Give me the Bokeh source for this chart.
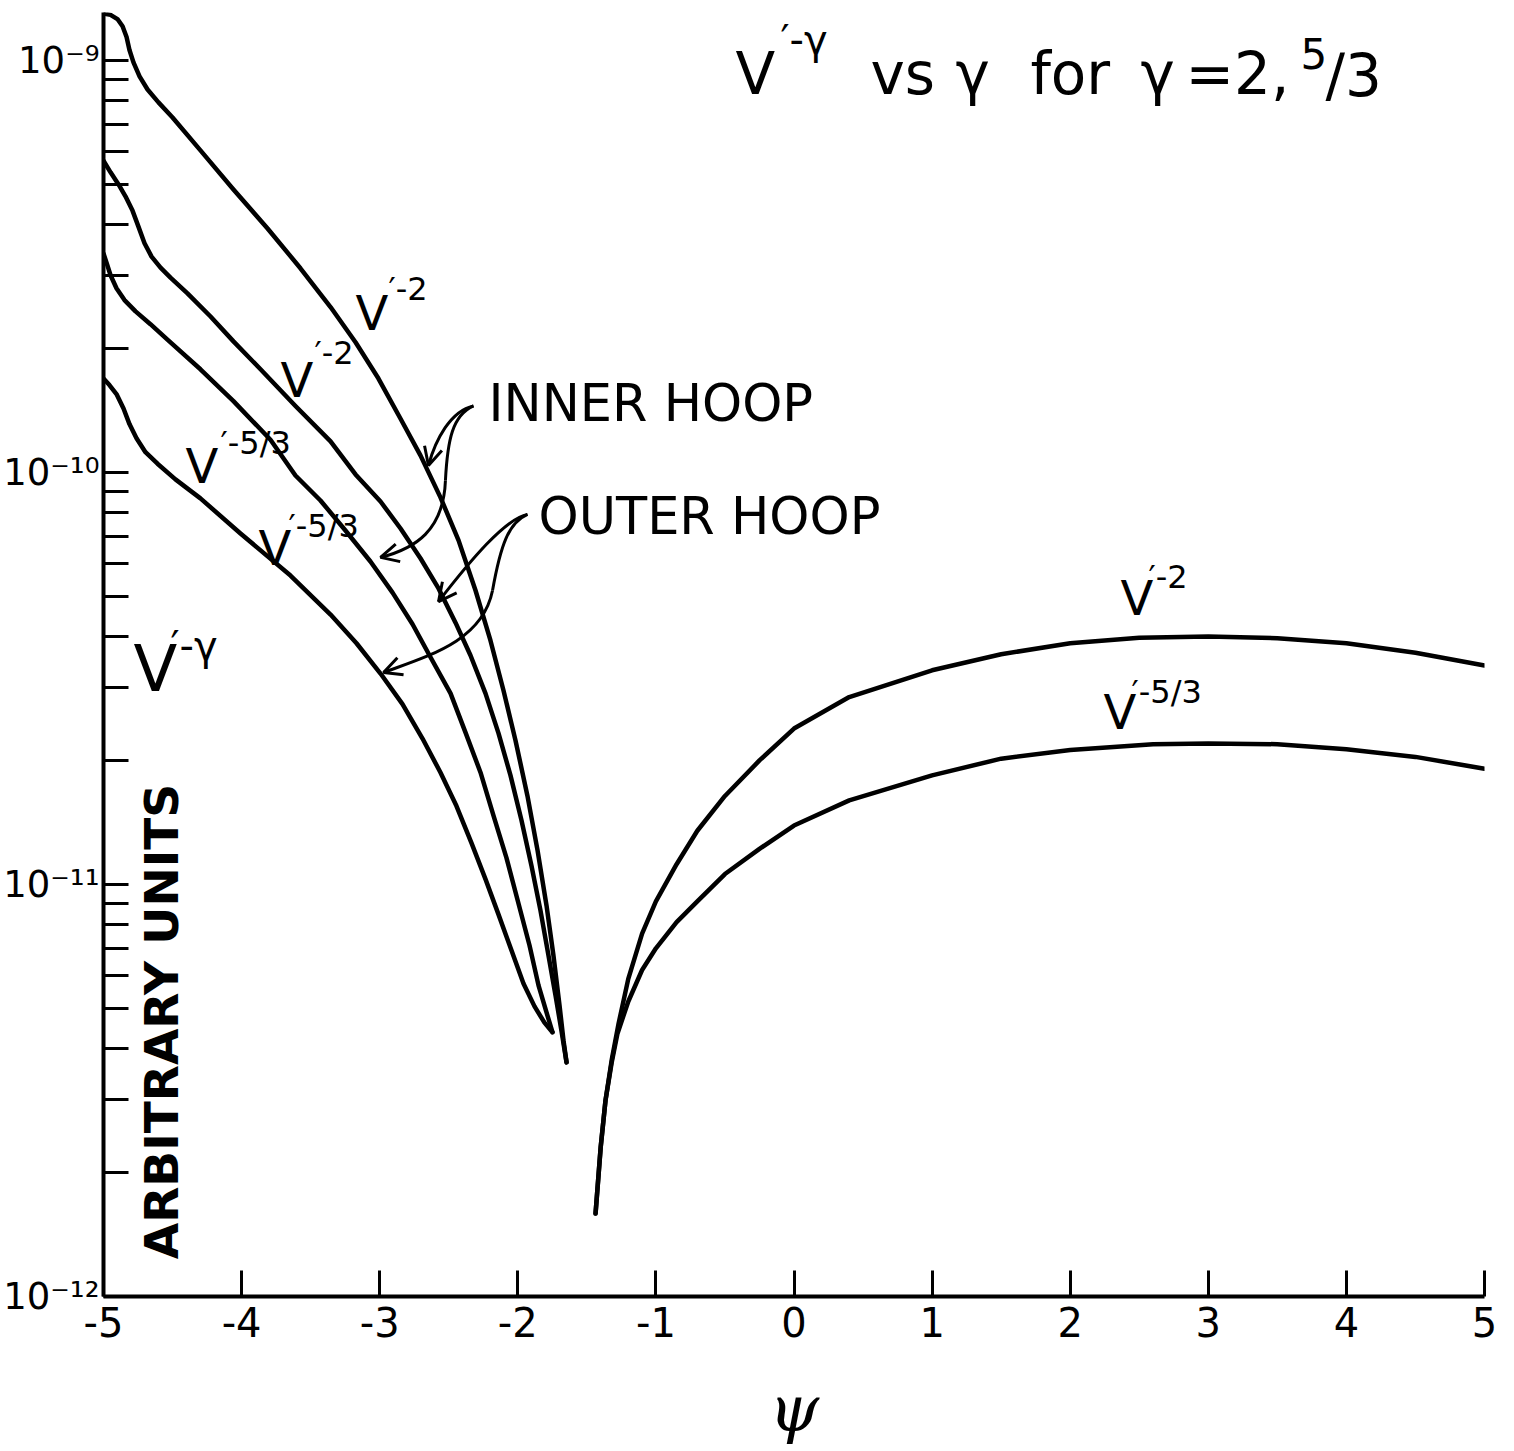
import numpy as np
from bokeh.plotting import figure
from bokeh.models import FixedTicker, Label, Arrow, OpenHead, Range1d
from bokeh.embed import file_html
from bokeh.resources import INLINE

# --- V'^-gamma against psi (arbitrary units) -------------------------------
# inner hoop, gamma = 2
psi_inner_2 = [-5.000, -4.949, -4.899, -4.862, -4.833, -4.812, -4.783, -4.739,
               -4.681, -4.602, -4.500, -4.298, -4.059, -3.812, -3.574, -3.356,
               -3.175, -3.009, -2.849, -2.705, -2.560, -2.429, -2.306, -2.198,
               -2.104, -2.017, -1.930, -1.857, -1.792, -1.742, -1.698, -1.669, -1.647]
val_inner_2 = [1.30e-9, 1.29e-9, 1.26e-9, 1.21e-9, 1.14e-9, 1.06e-9, 9.89e-10, 9.15e-10,
               8.50e-10, 7.91e-10, 7.27e-10, 6.05e-10, 4.86e-10, 3.91e-10, 3.13e-10,
               2.52e-10, 2.07e-10, 1.69e-10, 1.35e-10, 1.10e-10, 8.70e-11, 6.84e-11,
               5.17e-11, 3.91e-11, 2.96e-11, 2.24e-11, 1.64e-11, 1.21e-11, 8.89e-12,
               6.73e-12, 5.09e-12, 4.18e-12, 3.70e-12]

# outer hoop, gamma = 2
psi_outer_2 = [-5.000, -4.949, -4.891, -4.841, -4.790, -4.747, -4.703, -4.652,
               -4.587, -4.515, -4.392, -4.225, -4.059, -3.863, -3.610, -3.356,
               -3.175, -2.994, -2.849, -2.705, -2.574, -2.451, -2.343, -2.234,
               -2.140, -2.053, -1.973, -1.901, -1.836, -1.778, -1.727, -1.684, -1.647]
val_outer_2 = [5.71e-10, 5.35e-10, 5.00e-10, 4.68e-10, 4.32e-10, 3.95e-10, 3.60e-10,
               3.34e-10, 3.14e-10, 2.97e-10, 2.72e-10, 2.39e-10, 2.08e-10, 1.78e-10,
               1.45e-10, 1.19e-10, 9.89e-11, 8.50e-11, 7.31e-11, 6.19e-11, 5.23e-11,
               4.32e-11, 3.60e-11, 2.91e-11, 2.33e-11, 1.84e-11, 1.43e-11, 1.11e-11,
               8.65e-12, 6.73e-12, 5.38e-12, 4.42e-12, 3.70e-12]

# inner hoop, gamma = 5/3
psi_inner_53 = [-5.000, -4.978, -4.949, -4.906, -4.848, -4.768, -4.660, -4.537,
                -4.298, -4.059, -3.791, -3.610, -3.429, -3.248, -3.067, -2.907,
                -2.762, -2.632, -2.487, -2.379, -2.270, -2.176, -2.082, -1.995,
                -1.915, -1.850, -1.792, -1.749]
val_inner_53 = [3.40e-10, 3.23e-10, 3.01e-10, 2.80e-10, 2.62e-10, 2.46e-10, 2.29e-10,
                2.10e-10, 1.78e-10, 1.49e-10, 1.20e-10, 9.83e-11, 8.55e-11, 7.23e-11,
                6.08e-11, 5.11e-11, 4.28e-11, 3.56e-11, 2.91e-11, 2.34e-11, 1.87e-11,
                1.47e-11, 1.16e-11, 8.99e-12, 7.11e-12, 5.69e-12, 4.89e-12, 4.38e-12]

# outer hoop, gamma = 5/3
psi_outer_53 = [-5.000, -4.957, -4.906, -4.855, -4.812, -4.761, -4.696, -4.609,
                -4.479, -4.298, -4.008, -3.646, -3.356, -3.168, -2.994, -2.835,
                -2.690, -2.560, -2.444, -2.335, -2.234, -2.140, -2.046, -1.959,
                -1.879, -1.807, -1.749]
val_outer_53 = [1.69e-10, 1.63e-10, 1.55e-10, 1.43e-10, 1.31e-10, 1.21e-10, 1.12e-10,
                1.05e-10, 9.62e-11, 8.65e-11, 7.11e-11, 5.62e-11, 4.52e-11, 3.85e-11,
                3.25e-11, 2.74e-11, 2.26e-11, 1.87e-11, 1.55e-11, 1.26e-11, 1.03e-11,
                8.46e-12, 6.92e-12, 5.75e-12, 5.06e-12, 4.62e-12, 4.38e-12]

# right-hand branch, gamma = 2
psi_right_2 = [-1.437, -1.40, -1.365, -1.32, -1.27, -1.2, -1.1, -1.0, -0.85, -0.7,
               -0.5, -0.25, 0.0, 0.4, 1.0, 1.5, 2.0, 2.5, 3.0, 3.5, 4.0, 4.5, 5.0]
val_right_2 = [1.59e-12, 2.30e-12, 2.99e-12, 3.75e-12, 4.60e-12, 5.90e-12, 7.60e-12,
               9.10e-12, 1.12e-11, 1.35e-11, 1.64e-11, 2.00e-11, 2.39e-11, 2.85e-11,
               3.31e-11, 3.62e-11, 3.85e-11, 3.97e-11, 4.00e-11, 3.96e-11, 3.85e-11,
               3.65e-11, 3.40e-11]

# right-hand branch, gamma = 5/3
psi_right_53 = [-1.437, -1.40, -1.365, -1.32, -1.278, -1.2, -1.1, -1.0, -0.85, -0.7,
                -0.5, -0.25, 0.0, 0.4, 1.0, 1.5, 2.0, 2.6, 3.0, 3.5, 4.0, 4.5, 5.0]
val_right_53 = [1.59e-12, 2.30e-12, 2.99e-12, 3.70e-12, 4.35e-12, 5.20e-12, 6.20e-12,
                7.00e-12, 8.10e-12, 9.10e-12, 1.06e-11, 1.22e-11, 1.39e-11, 1.60e-11,
                1.84e-11, 2.02e-11, 2.12e-11, 2.19e-11, 2.20e-11, 2.19e-11, 2.13e-11,
                2.04e-11, 1.91e-11]

# --- axis ticks -------------------------------------------------------------
psi_ticks = [-5, -4, -3, -2, -1, 0, 1, 2, 3, 4, 5]
psi_tick_labels = ["-5", "-4", "-3", "-2", "-1", "0", "1", "2", "3", "4", "5"]
decade_ticks = [1e-12, 1e-11, 1e-10, 1e-9]
decade_labels = ["10\u207b\u00b9\u00b2", "10\u207b\u00b9\u00b9", "10\u207b\u00b9\u2070", "10\u207b\u2079"]
minor_ticks = [m * d for d in (1e-12, 1e-11, 1e-10) for m in range(2, 10)]

FONT = "DejaVu Sans"
INK = "black"

p = figure(width=1514, height=1451,
           x_range=Range1d(-5, 5), y_range=Range1d(1e-12, 1.307e-9),
           y_axis_type="log", output_backend="svg", toolbar_location=None,
           min_border_left=103, min_border_right=30,
           min_border_top=12, min_border_bottom=155)
p.grid.visible = False
p.outline_line_color = None
p.background_fill_color = "white"
p.border_fill_color = "white"

# horizontal axis
xa = p.xaxis[0]
xa.ticker = FixedTicker(ticks=psi_ticks)
xa.major_label_overrides = {t: s for t, s in zip(psi_ticks, psi_tick_labels)}
xa.axis_line_width = 4
xa.axis_line_color = INK
xa.major_tick_in = 26
xa.major_tick_out = 0
xa.major_tick_line_width = 3
xa.minor_tick_line_color = None
xa.major_label_text_font = FONT
xa.major_label_text_font_size = "40px"
xa.major_label_text_color = INK
xa.major_label_standoff = 10
xa.axis_label = "\u03c8"
xa.axis_label_text_font = "DejaVu Serif"
xa.axis_label_text_font_style = "italic"
xa.axis_label_text_font_size = "64px"
xa.axis_label_text_color = INK
xa.axis_label_standoff = 32

# vertical (log) axis
ya = p.yaxis[0]
ya.ticker = FixedTicker(ticks=decade_ticks, minor_ticks=minor_ticks)
ya.major_label_overrides = {t: s for t, s in zip(decade_ticks, decade_labels)}
ya.axis_line_width = 4
ya.axis_line_color = INK
ya.major_tick_in = 25
ya.major_tick_out = 0
ya.major_tick_line_width = 3
ya.minor_tick_in = 25
ya.minor_tick_out = 0
ya.minor_tick_line_width = 3
ya.minor_tick_line_color = INK
ya.major_label_text_font = FONT
ya.major_label_text_font_size = "37px"
ya.major_label_text_color = INK
ya.major_label_standoff = 4

# curves
for xs, ys in [(psi_inner_2, val_inner_2), (psi_outer_2, val_outer_2),
               (psi_inner_53, val_inner_53), (psi_outer_53, val_outer_53),
               (psi_right_2, val_right_2), (psi_right_53, val_right_53)]:
    p.line(xs, ys, line_color=INK, line_width=4.5,
           line_join="round", line_cap="round")


def label(x, y, text, size, style="normal", font=FONT, **kw):
    p.add_layout(Label(x=x, y=y, text=text, text_font=font,
                       text_font_size=f"{size}px", text_font_style=style,
                       text_color=INK, text_baseline=kw.pop("baseline", "alphabetic"),
                       text_align=kw.pop("align", "left"),
                       y_offset=kw.pop("lift", 19), **kw))


def v_label(x, y, xs, ys, sup, size=48, sup_size=32):
    label(x, y, "V", size)
    label(xs, ys, sup, sup_size)


# title
label(-0.424, 8.32e-10, "V", 58)
label(-0.098, 1.01e-9, "\u2032-\u03b3", 40)
label(0.554, 8.32e-10, "vs", 58)
label(1.169, 8.32e-10, "\u03b3", 58)
label(1.712, 8.32e-10, "for", 58)
label(2.509, 8.32e-10, "\u03b3", 58)
label(2.835, 8.32e-10, "=2,", 58)
label(3.667, 9.35e-10, "5", 42)
label(3.849, 8.22e-10, "/3", 58)

# curve labels
v_label(-3.175, 2.19e-10, -2.936, 2.50e-10, "\u2032-2")
v_label(-3.718, 1.51e-10, -3.472, 1.75e-10, "\u2032-2")
v_label(-4.406, 9.30e-11, -4.153, 1.06e-10, "\u2032-5/3")
v_label(-3.878, 5.88e-11, -3.660, 6.65e-11, "\u2032-5/3")
v_label(2.364, 4.45e-11, 2.567, 5.00e-11, "\u2032-2")
v_label(2.241, 2.36e-11, 2.444, 2.64e-11, "\u2032-5/3")
v_label(-4.783, 2.99e-11, -4.515, 3.40e-11, "\u2032-\u03b3", size=64, sup_size=40)

label(-2.212, 1.32e-10, "INNER HOOP", 51)
label(-1.850, 7.03e-11, "OUTER HOOP", 51)
label(-4.580, 4.65e-12, "ARBITRARY UNITS", 47, style="bold",
      angle=np.pi / 2, align="center", baseline="middle", lift=0)

# pointer arrows: cubic segments (start, control 0, control 1, end, arrowhead?)
pointer_segments = [
    ((-2.321, 1.45e-10), (-2.487, 1.41e-10), (-2.596, 1.20e-10), (-2.647, 1.04e-10), True),
    ((-2.321, 1.45e-10), (-2.473, 1.375e-10), (-2.509, 1.20e-10), (-2.524, 9.56e-11), False),
    ((-2.524, 9.56e-11), (-2.538, 7.23e-11), (-2.741, 6.54e-11), (-2.994, 6.22e-11), True),
    ((-1.930, 7.91e-11), (-2.089, 7.73e-11), (-2.343, 6.12e-11), (-2.574, 4.86e-11), True),
    ((-1.930, 7.91e-11), (-2.067, 7.56e-11), (-2.125, 6.65e-11), (-2.183, 5.17e-11), False),
    ((-2.183, 5.17e-11), (-2.256, 3.91e-11), (-2.632, 3.60e-11), (-2.972, 3.27e-11), True),
]
p.bezier(x0=[s[0][0] for s in pointer_segments], y0=[s[0][1] for s in pointer_segments],
         cx0=[s[1][0] for s in pointer_segments], cy0=[s[1][1] for s in pointer_segments],
         cx1=[s[2][0] for s in pointer_segments], cy1=[s[2][1] for s in pointer_segments],
         x1=[s[3][0] for s in pointer_segments], y1=[s[3][1] for s in pointer_segments],
         line_color=INK, line_width=3)
for s0, c0, c1, s1, head in pointer_segments:
    if head:
        p.add_layout(Arrow(end=OpenHead(size=18, line_width=3, line_color=INK),
                           x_start=c1[0], y_start=c1[1], x_end=s1[0], y_end=s1[1],
                           line_alpha=0))

open("out.html", "w").write(file_html(p, INLINE))
